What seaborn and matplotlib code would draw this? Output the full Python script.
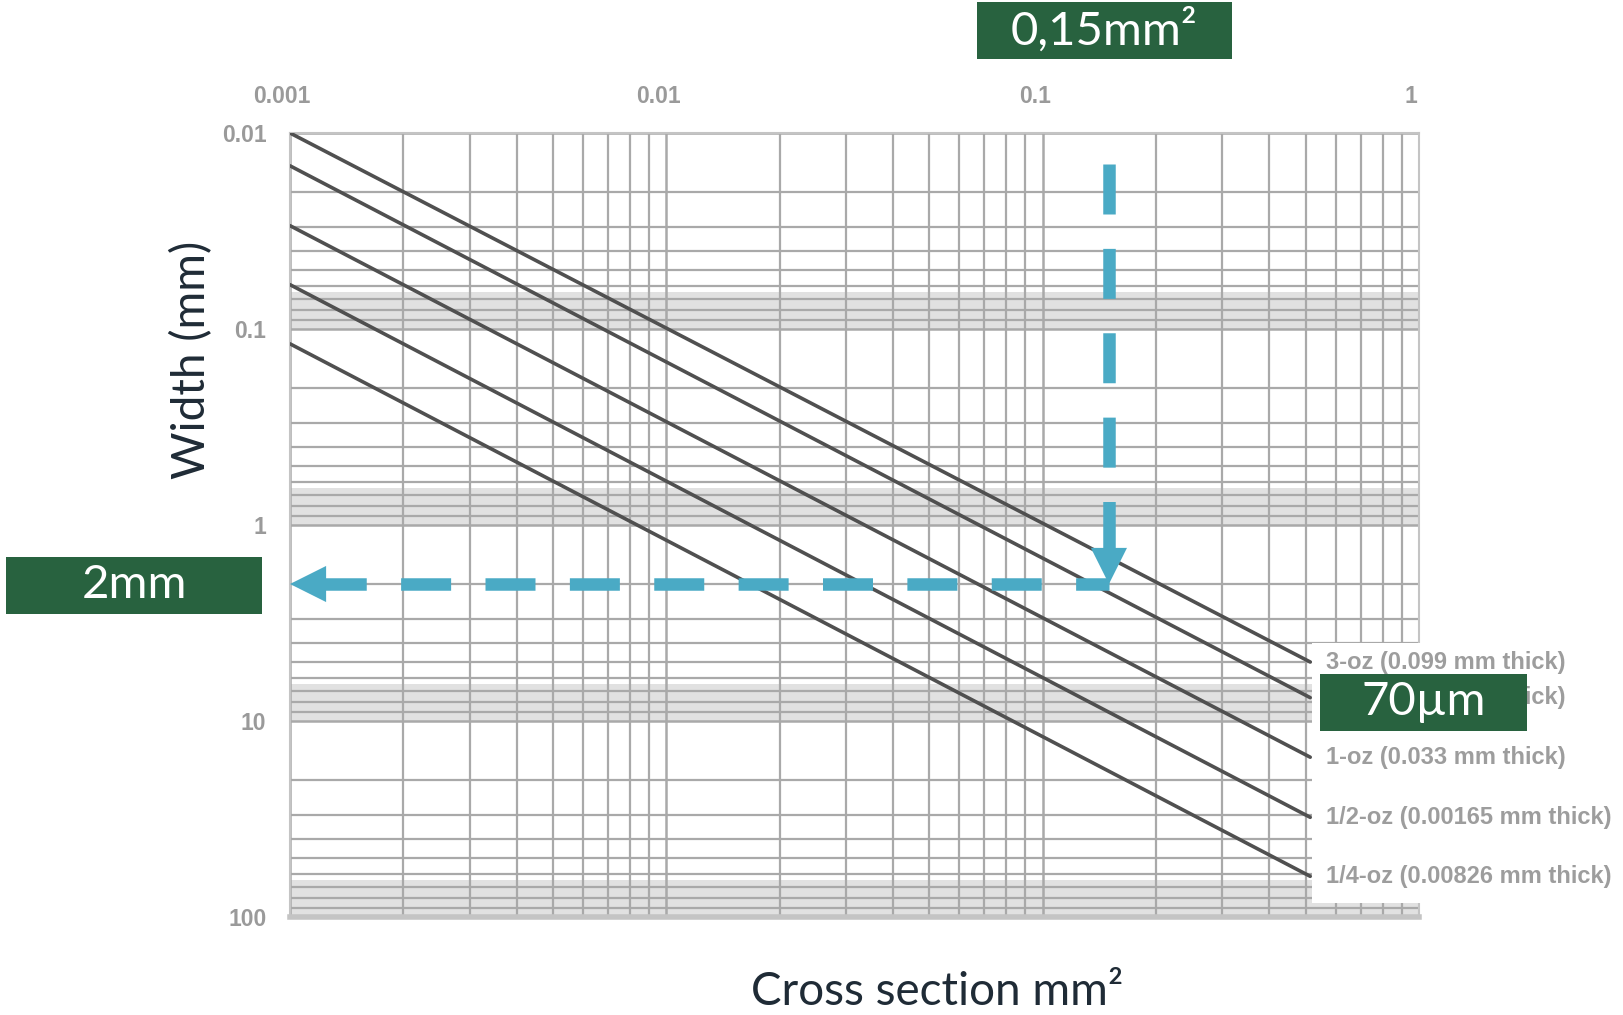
import numpy as np
import pandas as pd
import seaborn as sns
import matplotlib.pyplot as plt
from matplotlib.patches import Rectangle
from matplotlib.transforms import ScaledTranslation
from matplotlib.ticker import LogLocator, FixedLocator, NullFormatter

# values
area_range = [0.001, 0.514]                       # cross section where each line starts / ends
width_start = [0.0100, 0.0147, 0.0297, 0.0594, 0.119]
width_end = [5.0, 7.6, 15.3, 31.0, 62.0]
line_labels = ['3-oz (0.099 mm thick)', '2-oz (0.066 mm thick)', '1-oz (0.033 mm thick)',
               '1/2-oz (0.00165 mm thick)', '1/4-oz (0.00826 mm thick)']
x_ticks = [0.001, 0.01, 0.1, 1]
x_ticklabels = ['0.001', '0.01', '0.1', '1']
y_ticks = [0.01, 0.1, 1, 10, 100]
y_ticklabels = ['0.01', '0.1', '1', '10', '100']
arrow_area = 0.15
arrow_width = 2
arrow_top = 0.0144

GREEN = '#28623f'
BLUE = '#4aaac5'
INK = '#1f2b36'
GRID = '#a9a9a9'

sns.set_theme(style='white')
plt.rcParams['font.family'] = ['Lato', 'DejaVu Sans']

rows = []
for lab, w0, w1 in zip(line_labels, width_start, width_end):
    rows.append({'area': area_range[0], 'width': w0, 'label': lab})
    rows.append({'area': area_range[1], 'width': w1, 'label': lab})
df = pd.DataFrame(rows)

fig = plt.figure(figsize=(16.24, 10.15), dpi=100)
ax = fig.add_axes([0.17857, 0.09655, 0.6952, 0.77241])

sns.lineplot(data=df, x='area', y='width', hue='label', palette=['#505050'] * 5,
             estimator=None, legend=False, lw=2.6, ax=ax, zorder=3)

ax.set_xscale('log')
ax.set_yscale('log')
ax.set_xlim(0.001, 1)
ax.set_ylim(100, 0.01)

ax.xaxis.tick_top()
ax.xaxis.set_major_locator(FixedLocator(x_ticks))
ax.set_xticklabels(x_ticklabels)
ax.yaxis.set_major_locator(FixedLocator(y_ticks))
ax.set_yticklabels(y_ticklabels)
ax.xaxis.set_minor_locator(LogLocator(base=10, subs=np.arange(2, 10)))
ax.yaxis.set_minor_locator(LogLocator(base=10, subs=np.arange(2, 10)))
ax.xaxis.set_minor_formatter(NullFormatter())
ax.yaxis.set_minor_formatter(NullFormatter())
ax.tick_params(axis='both', which='both', length=0)
ax.tick_params(axis='x', pad=18, labelsize=16.5, labelcolor='#9a9a9a')
ax.tick_params(axis='y', pad=17, labelsize=16.5, labelcolor='#9a9a9a')
shift = ScaledTranslation(-8 / 100, 0, fig.dpi_scale_trans)
for t in ax.get_xticklabels():
    t.set_transform(t.get_transform() + shift)
for t in ax.get_xticklabels() + ax.get_yticklabels():
    t.set_fontweight('bold')
    t.set_family(['Liberation Sans', 'DejaVu Sans'])

ax.set_axisbelow(True)
ax.grid(which='major', color=GRID, lw=1.8)
ax.grid(which='minor', color=GRID, lw=1.6)
for dec in [0.01, 0.1, 1, 10]:
    ax.axhspan(dec * 6.5, dec * 10, color='#e1e1e1', lw=0, zorder=0)

for s in ['top', 'left', 'right']:
    ax.spines[s].set_color('#c4c4c4')
    ax.spines[s].set_linewidth(1.5)
ax.spines['bottom'].set_color('#c4c4c4')
ax.spines['bottom'].set_linewidth(4)

# white area behind the line labels
ax.add_patch(Rectangle((0.52, 4.0), 0.6, 81, facecolor='white', lw=0,
                       zorder=2.8, clip_on=False))

for lab, w1 in zip(line_labels, width_end):
    ax.text(0.566, w1, lab, ha='left', va='center', fontsize=17, color='#9d9d9d',
            fontweight='bold', family=['Liberation Sans', 'DejaVu Sans'], zorder=4)

ax.set_xlabel('')
ax.set_ylabel('')

# dashed arrows
head_x = arrow_width / 10 ** (35 / 196)
ax.plot([arrow_area, arrow_area], [arrow_top, head_x], color=BLUE, lw=9,
        linestyle=(0, (4.0, 2.75)), solid_capstyle='butt', zorder=5)
ax.annotate('', xy=(arrow_area, arrow_width), xytext=(arrow_area, head_x),
            arrowprops=dict(arrowstyle='-|>,head_length=26,head_width=13', mutation_scale=1,
                            color=BLUE, lw=0, shrinkA=0, shrinkB=0), zorder=5)
head_y = area_range[0] * 10 ** (35 / 376.3)
ax.plot([head_y, arrow_area], [arrow_width, arrow_width], color=BLUE, lw=9,
        linestyle=(0.7, (4.0, 2.75)), solid_capstyle='butt', zorder=5)
ax.annotate('', xy=(area_range[0], arrow_width), xytext=(head_y, arrow_width),
            arrowprops=dict(arrowstyle='-|>,head_length=26,head_width=13', mutation_scale=1,
                            color=BLUE, lw=0, shrinkA=0, shrinkB=0), zorder=5)

# green boxes
boxes = [((0.6016, 0.9419, 0.1570, 0.0562), (0.6801, 0.970), '0,15mm²'),
         ((0.0037, 0.3951, 0.1576, 0.0562), (0.0829, 0.4232), '2mm'),
         ((0.8128, 0.2798, 0.1275, 0.0562), (0.8770, 0.3079), '70µm')]
for (x0, y0, w, h), (tx, ty), txt in boxes:
    fig.patches.append(Rectangle((x0, y0), w, h, transform=fig.transFigure,
                                 facecolor=GREEN, lw=0, zorder=10))
    fig.text(tx, ty, txt, ha='center', va='center', color='white', fontsize=34, zorder=11)

fig.text(0.118, 0.645, 'Width (mm)', rotation=90, ha='center', va='center',
         color=INK, fontsize=33)
fig.text(0.577, 0.0227, 'Cross section mm²', ha='center', va='center',
         color=INK, fontsize=33)

fig.savefig('out.png', dpi=100)
